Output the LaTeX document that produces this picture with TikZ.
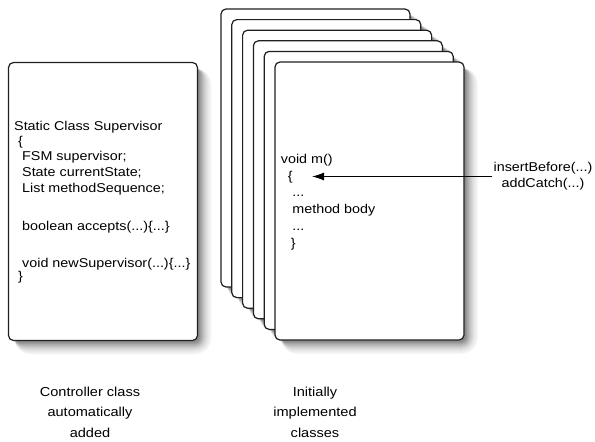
\documentclass[tikz,border=0pt]{standalone}
\usepackage{fontspec}
\setmainfont[FakeStretch=1.12]{Liberation Sans}
\usetikzlibrary{arrows.meta}
\newcommand{\cardshadow}[2]{% center x, center y
  \foreach \r/\p in {12/3,11/5,10/7,9/9,8/12,7/15,6/18,5/22,4/26,3/30,2/35,1/40,0/45}{
    \fill[black!\p, rounded corners={5pt+\r pt}]
      ({#1-94.5+6},{#2-139+6}) rectangle ({#1+94.5+2+\r},{#2+139+2+\r});
  }}
\begin{document}
\begin{tikzpicture}[x=1pt,y=-1pt,
  card/.style={draw=black!88, line width=1.2pt, rounded corners=5pt, fill=white,
    minimum width=189pt, minimum height=278pt, inner sep=0pt},
  codeline/.style={font=\fontsize{12.8}{15}\selectfont, inner sep=0pt, anchor=base west},
  codetext/.style={font=\fontsize{12.8}{16.7}\selectfont, align=left, inner sep=0pt, anchor=base west},
  labeltext/.style={font=\fontsize{13}{20.5}\selectfont, align=center, inner sep=0pt, anchor=base},
  arr/.style={line width=1.1pt, -{Latex[length=12pt,width=8pt]}}]
\useasboundingbox (0,0) rectangle (595,442);
% controller class
\cardshadow{103}{201.5}
\node[card] (ctrl) at (103,201.5) {};
\node[codeline] (s1) at (14,130) {Static Class Supervisor};
\node[codeline] (s2) at (18,145) {\{};
\node[codeline] (s3) at (22,160) {FSM supervisor;};
\node[codeline] (s4) at (22,176) {State currentState;};
\node[codeline] (s5) at (22,192) {List methodSequence;};
\node[codeline] (s6) at (22,230.5) {boolean accepts(...)\{...\}};
\node[codeline] (s7) at (22,267) {void newSupervisor(...)\{...\}};
\node[codeline] (s8) at (18,280.5) {\}};
% stack of classes
\foreach \i in {0,...,5}{
  \cardshadow{221+10.8*\i+94.5}{9+10.6*\i+139}
  \node[card] (c\i) at ({221+10.8*\i+94.5},{9+10.6*\i+139}) {};
}
\node[codetext] (mtxt) at (280.7,247) {void m()\\
\hspace*{7pt}\{\\
\hspace*{11.5pt}...\\
\hspace*{11.5pt}method body\\
\hspace*{11.5pt}...\\
\hspace*{10pt}\}};
\coordinate (tip) at (312,176.5);
\node[font=\fontsize{12.8}{16}\selectfont, align=center, inner sep=0pt] (ins) at (543,176) {insertBefore(...)\\addCatch(...)};
\draw[arr] (ins.west |- tip) ++(-1,0) -- (tip);
% labels
\node[labeltext] (lab1) at (90,437) {Controller class\\automatically\\added};
\node[labeltext] (lab2) at (315,437) {Initially\\implemented\\classes};
\end{tikzpicture}
\end{document}
